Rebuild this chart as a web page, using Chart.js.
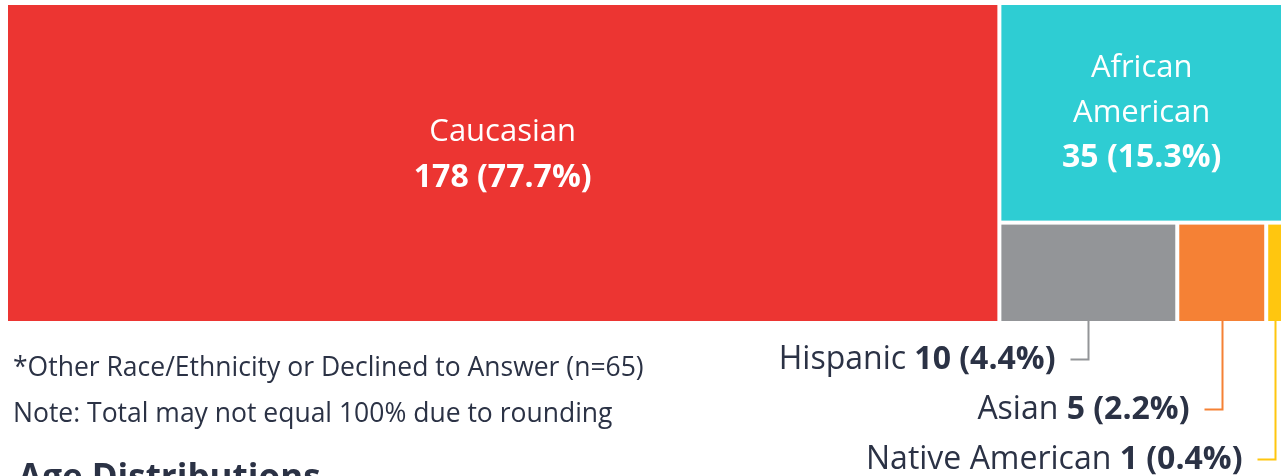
<!DOCTYPE html>
<html lang="en">
<head>
  <meta charset="UTF-8">
  <title>Race/Ethnicity</title>
  <script src="https://cdn.jsdelivr.net/npm/chart.js@4.4.1/dist/chart.umd.min.js"></script>
  <style>
    html, body {
      margin: 0;
      padding: 0;
      background: #fff;
      overflow: hidden;
      width: 1281px;
      height: 476px;
      font-family: "Open Sans", sans-serif;
      color: #2b3245;
    }
    .wrap {
      position: relative;
      width: 1284px;
      height: 476px;
    }
    .note {
      position: absolute;
      left: 13px;
      font-size: 26.5px;
      line-height: 26.5px;
      white-space: nowrap;
    }
    .heading {
      position: absolute;
      left: 18px;
      top: 458px;
      font-size: 35px;
      line-height: 35px;
      font-weight: 700;
      white-space: nowrap;
    }
  </style>
</head>
<body>
  <div class="wrap">
    <canvas id="chart" width="1284" height="476"></canvas>
    <div class="note" style="top:353px">*Other Race/Ethnicity or Declined to Answer (n=65)</div>
    <div class="note" style="top:399px">Note: Total may not equal 100% due to rounding</div>
    <div class="heading">Age Distributions</div>
  </div>

  <script>
    // dados do treemap
    const categories = ['Caucasian', 'African American', 'Hispanic', 'Asian', 'Native American'];
    const counts = [178, 35, 10, 5, 1];
    const percents = ['77.7%', '15.3%', '4.4%', '2.2%', '0.4%'];
    const colors = ['#ec3532', '#2ecdd3', '#939598', '#f58135', '#ffc60f'];

    const FONT = '"Open Sans", sans-serif';
    const TEXT = '#2b3245';

    // divide o retângulo sempre pelo lado maior
    function layout(values, x0, y0, x1, y1) {
      const rects = [];
      let rest = values.reduce((a, b) => a + b, 0);
      for (let i = 0; i < values.length; i++) {
        const w = x1 - x0, h = y1 - y0;
        const f = values[i] / rest;
        if (w >= h) {
          const xm = x0 + w * f;
          rects.push({ x0: x0, y0: y0, x1: xm, y1: y1 });
          x0 = xm;
        } else {
          const ym = y0 + h * f;
          rects.push({ x0: x0, y0: y0, x1: x1, y1: ym });
          y0 = ym;
        }
        rest -= values[i];
      }
      return rects;
    }

    function wrapWords(ctx, text, maxW) {
      if (ctx.measureText(text).width <= maxW) return [text];
      return text.split(' ');
    }

    const treemapPlugin = {
      id: 'treemap',
      afterDatasetsDraw(chart) {
        const ctx = chart.ctx;
        const xs = chart.scales.x, ys = chart.scales.y;
        const left = xs.getPixelForValue(0), right = xs.getPixelForValue(1);
        const top = ys.getPixelForValue(1), bottom = ys.getPixelForValue(0);
        const rects = layout(counts, left, top, right, bottom);
        const gap = 2;

        ctx.save();
        rects.forEach((r, i) => {
          ctx.fillStyle = colors[i];
          ctx.fillRect(r.x0 + gap, r.y0 + gap, r.x1 - r.x0 - 2 * gap, r.y1 - r.y0 - 2 * gap);
        });

        ctx.textBaseline = 'middle';
        let ext = 0;
        rects.forEach((r, i) => {
          const cw = r.x1 - r.x0;
          const cx = (r.x0 + r.x1) / 2;
          if (cw > 200) {
            // rótulo dentro da célula
            ctx.textAlign = 'center';
            ctx.fillStyle = '#fff';
            ctx.font = '31px ' + FONT;
            const lines = wrapWords(ctx, categories[i], cw - 80);
            const lh = 45;
            const n = lines.length + 1;
            const cy = (r.y0 + r.y1) / 2 - (n === 2 ? 8 : 0);
            let y = cy - (n - 1) * lh / 2;
            lines.forEach(l => {
              ctx.font = '31px ' + FONT;
              ctx.fillText(l, cx, y);
              y += lh;
            });
            ctx.font = 'bold 32px ' + FONT;
            ctx.fillText(counts[i] + ' (' + percents[i] + ')', cx, y);
          } else {
            // rótulo externo com linha guia
            const lx = Math.round(cx) + 0.5;
            const ly = Math.round(r.y1 + 36 + ext * 50) + 0.5;
            ctx.strokeStyle = colors[i];
            ctx.lineWidth = 2;
            ctx.beginPath();
            ctx.moveTo(lx, r.y1 - gap);
            ctx.lineTo(lx, ly);
            ctx.lineTo(lx - 18, ly);
            ctx.stroke();

            const endX = lx - 33;
            ctx.textAlign = 'right';
            ctx.fillStyle = TEXT;
            ctx.font = 'bold 32px ' + FONT;
            const val = counts[i] + ' (' + percents[i] + ')';
            ctx.fillText(val, endX, ly);
            const vw = ctx.measureText(val).width;
            ctx.font = '32px ' + FONT;
            ctx.fillText(categories[i] + ' ', endX - vw, ly);
            ext++;
          }
        });
        ctx.restore();
      }
    };

    const chart = new Chart(document.getElementById('chart').getContext('2d'), {
      type: 'scatter',
      data: { datasets: [{ data: [] }] },
      options: {
        responsive: false,
        animation: false,
        events: [],
        layout: { padding: { left: 6, right: 0, top: 3, bottom: 153 } },
        plugins: { legend: { display: false }, tooltip: { enabled: false } },
        scales: {
          x: { type: 'linear', min: 0, max: 1, display: false },
          y: { type: 'linear', min: 0, max: 1, display: false }
        }
      },
      plugins: [treemapPlugin]
    });
  </script>
</body>
</html>
